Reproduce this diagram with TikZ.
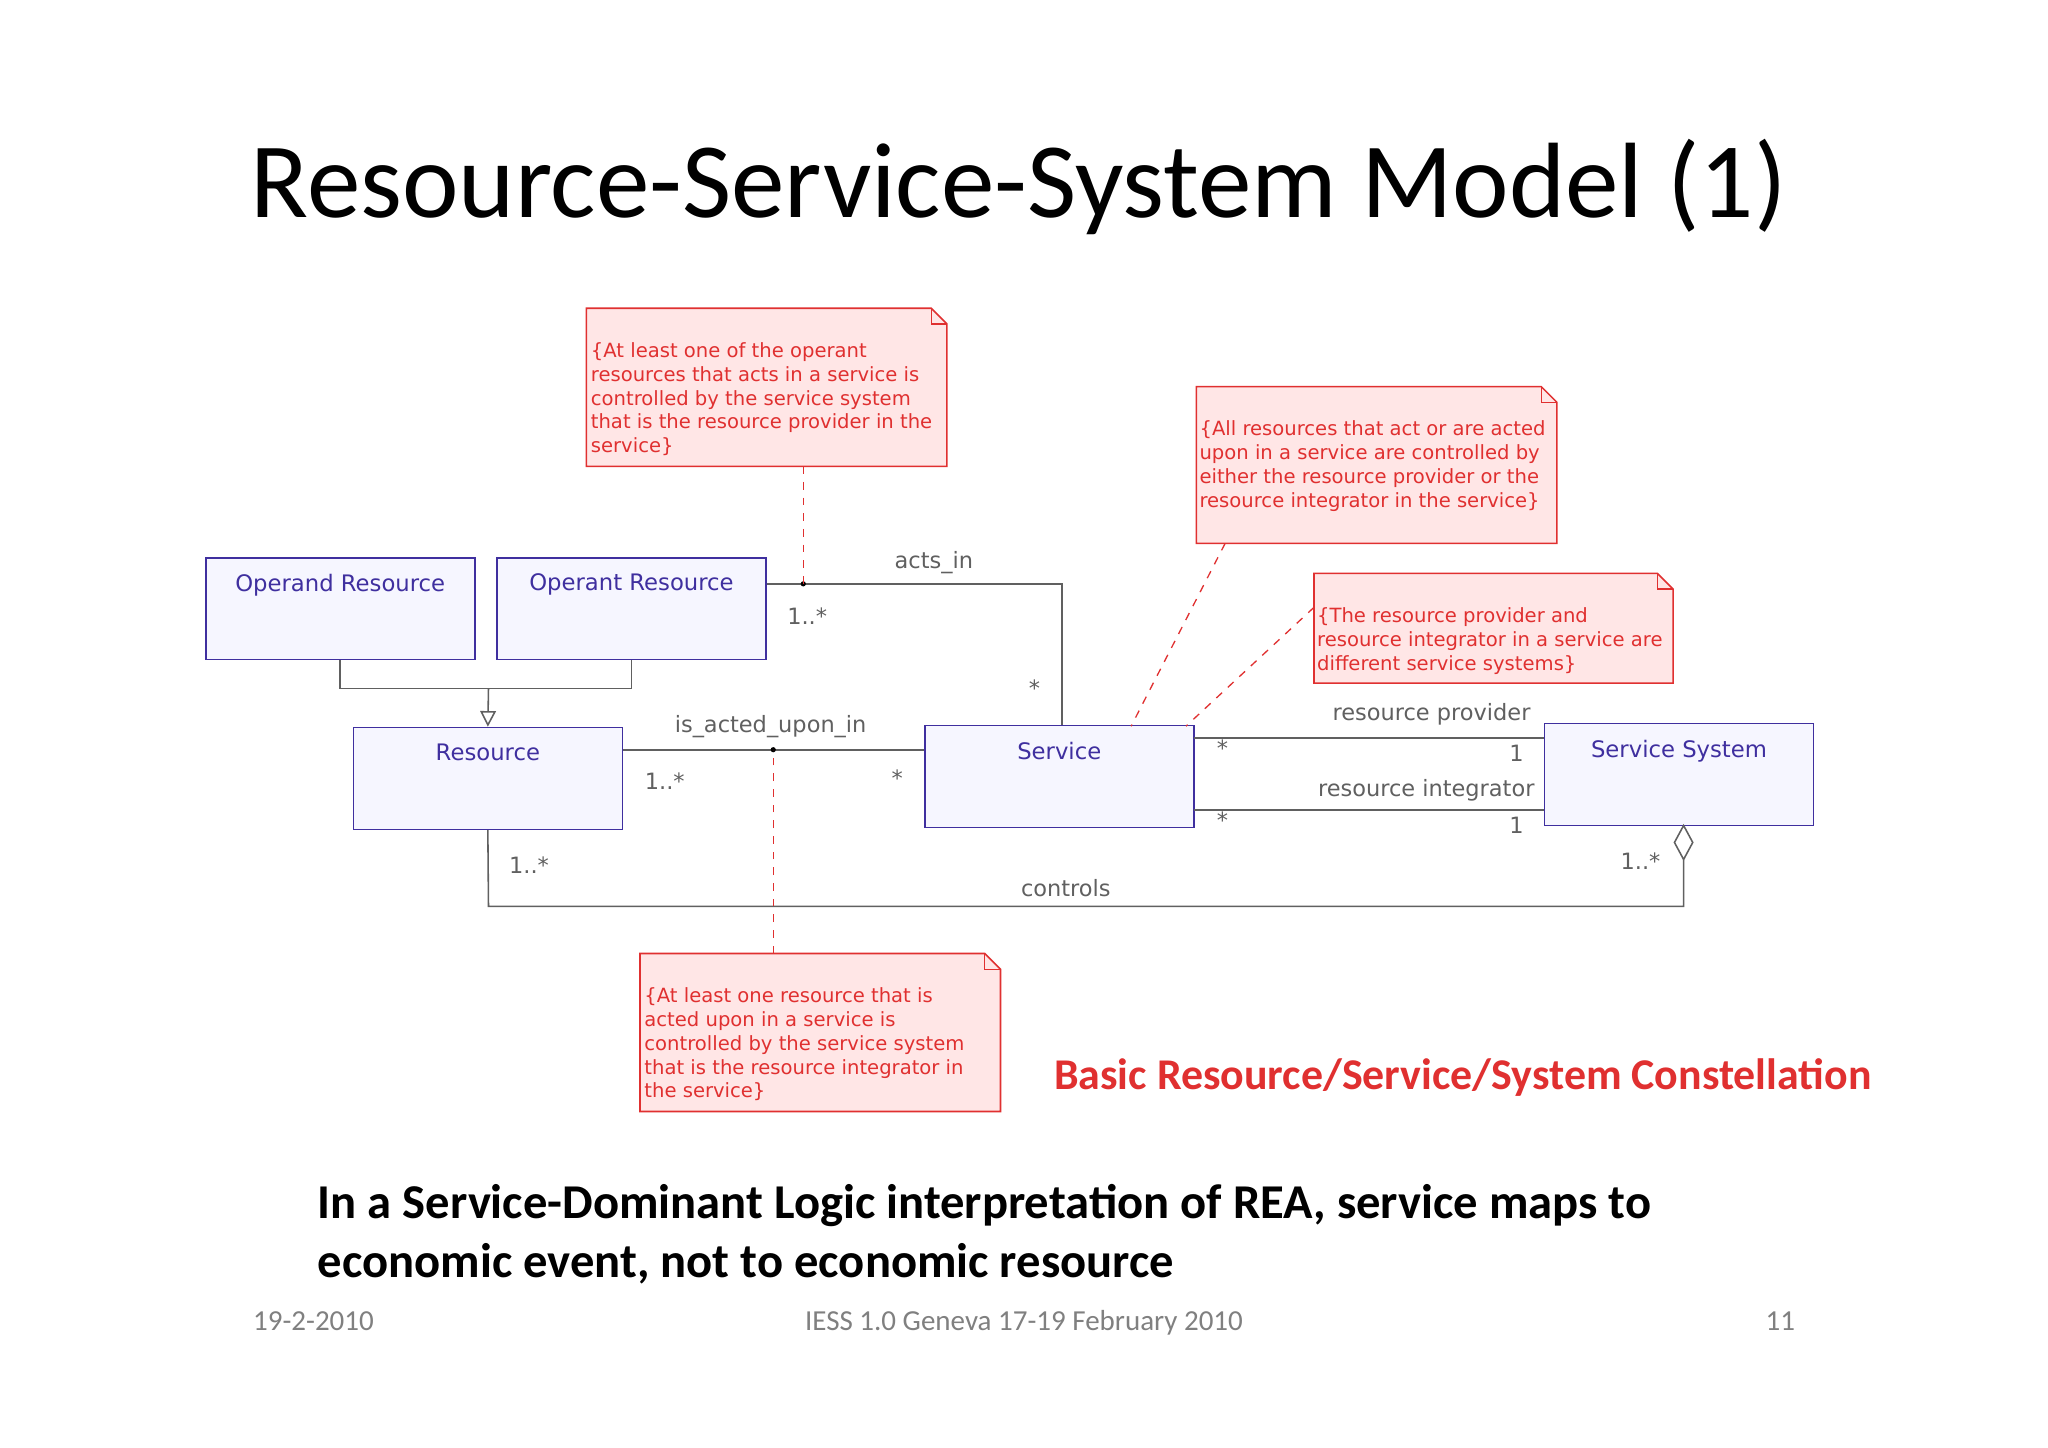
\documentclass[tikz,border=0pt]{standalone}
\usepackage{fontspec}
\setmainfont{Carlito}
\newfontfamily\dia{DejaVu Sans}
\usetikzlibrary{arrows.meta}
\definecolor{bx}{HTML}{3F2F9F}
\definecolor{bxf}{HTML}{F6F6FF}
\definecolor{nr}{HTML}{E03030}
\definecolor{nf}{HTML}{FFE6E6}
\definecolor{ln}{HTML}{606060}
\begin{document}
\begin{tikzpicture}[x=0.5pt,y=-0.5pt,
 cls/.style={draw=bx,fill=bxf,line width=0.6pt,minimum width=103pt,minimum height=39pt,inner sep=0pt,
   label={[anchor=north,yshift=-3pt,font=\dia\fontsize{8.7}{9}\selectfont,text=bx]north:#1}},
 ntxt/.style={anchor=north west,align=left,inner sep=0pt,font=\dia\fontsize{7.5}{9.1}\selectfont,text=nr},
 lbl/.style={font=\dia\fontsize{8.6}{9}\selectfont,text=ln},
 asc/.style={draw=ln,line width=0.6pt},
 dsh/.style={draw=nr,dashed,line width=0.5pt}]
\useasboundingbox (0,0) rectangle (1568,1108);
\fill[white] (0,0) rectangle (1568,1108);
\node[font=\fontsize{41}{48}\selectfont] (title) at (780,143) {Resource-Service-System Model (1)};
% notes
\newcommand\note[5]{%
 \draw[draw=nr,fill=nf,line width=0.6pt] (#1,#2) -- (#3-12,#2) -- (#3,#2+12) -- (#3,#4) -- (#1,#4) -- cycle;
 \draw[draw=nr,line width=0.5pt] (#3-12,#2) -- (#3-12,#2+12) -- (#3,#2+12);
 \node[ntxt] (#5) at (#1+3,#2+24) {};}
\note{449}{236}{725}{357}{n1}
\node[ntxt] at (452,262) {\{At least one of the operant\\resources that acts in a service is\\controlled by the service system\\that is the resource provider in the\\service\}};
\note{916}{296}{1192}{416}{n2}
\node[ntxt] at (918,322) {\{All resources that act or are acted\\upon in a service are controlled by\\either the resource provider or the\\resource integrator in the service\}};
\note{1006}{439}{1281}{523}{n3}
\node[ntxt] at (1008,465) {\{The resource provider and\\resource integrator in a service are\\different service systems\}};
\note{490}{730}{766}{851}{n4}
\node[ntxt] at (493,756) {\{At least one resource that is\\acted upon in a service is\\controlled by the service system\\that is the resource integrator in\\the service\}};
% classes
\node[cls=Operand Resource] (od) at (260.5,466) {};
\node[cls=Operant Resource] (ot) at (483.5,466) {};
\node[cls=Resource] (res) at (373.5,596) {};
\node[cls=Service] (srv) at (811,594.5) {};
\node[cls=Service System] (ss) at (1285.5,593) {};
% generalization
\coordinate (g) at (374,527);
\draw[asc] (od.south) |- (g) -| (ot.south);
\draw[asc,-{Triangle[open,length=6pt,width=6pt]}] (g) -- (res.north);
% acts_in
\coordinate (a1) at (813,447);
\coordinate (d1) at (615,447);
\draw[asc] (ot.east |- a1) -- (a1) -- (srv.north -| a1);
\fill (d1) circle (2);
\node[lbl] at (715,431) {acts\_in};
\node[lbl] at (618,472) {1..*};
\node[lbl] at (792,527) {*};
% is_acted_upon_in
\coordinate (d2) at (592,574);
\draw[asc] (res.east |- d2) -- (srv.west |- d2);
\fill (d2) circle (2);
\node[lbl] at (590,556) {is\_acted\_upon\_in};
\node[lbl] at (509,598) {1..*};
\node[lbl] at (687,596) {*};
% provider/integrator
\coordinate (p) at (914,565); \coordinate (q) at (914,620);
\draw[asc] (p) -- (ss.west |- p);
\draw[asc] (q) -- (ss.west |- q);
\node[lbl] at (1096,547) {resource provider};
\node[lbl] at (1092,605) {resource integrator};
\node[lbl] at (936,573) {*}; \node[lbl] at (1161,577) {1};
\node[lbl] at (936,628) {*}; \node[lbl] at (1161,632) {1};
% controls
\coordinate (c1) at (374,694); \coordinate (c2) at (1289,694);
\coordinate (dm) at (1289,658);
\draw[asc] (res.south) -- (c1) -- (c2) -- (dm);
\draw[asc,fill=white] (1289,632) -- (1296,645) -- (dm) -- (1282,645) -- cycle;
\node[lbl] at (816,680) {controls};
\node[lbl] at (405,662) {1..*};
\node[lbl] at (1256,659) {1..*};
% dashed
\draw[dsh] (615,357) -- (d1);
\draw[dsh] (592,730) -- (d2);
\draw[dsh] (938,416) -- (866,556);
\draw[dsh] (1006,465) -- (908,556);
% texts
\node[text=nr,font=\bfseries\fontsize{16.8}{18}\selectfont] (cap) at (1120,825) {Basic Resource/Service/System Constellation};
\node[anchor=west,font=\bfseries\fontsize{18.6}{22.5}\selectfont,align=left,inner sep=0pt] (body) at (243,945) {In a Service-Dominant Logic interpretation of REA, service maps to\\economic event, not to economic resource};
\node[text=gray,font=\fontsize{11.1}{12}\selectfont,anchor=base] (f1) at (240,1019) {19-2-2010};
\node[text=gray,font=\fontsize{11.1}{12}\selectfont,anchor=base] (f2) at (784,1019) {IESS 1.0 Geneva 17-19 February 2010};
\node[text=gray,font=\fontsize{11.1}{12}\selectfont,anchor=base] (f3) at (1363,1019) {11};
\end{tikzpicture}
\end{document}
